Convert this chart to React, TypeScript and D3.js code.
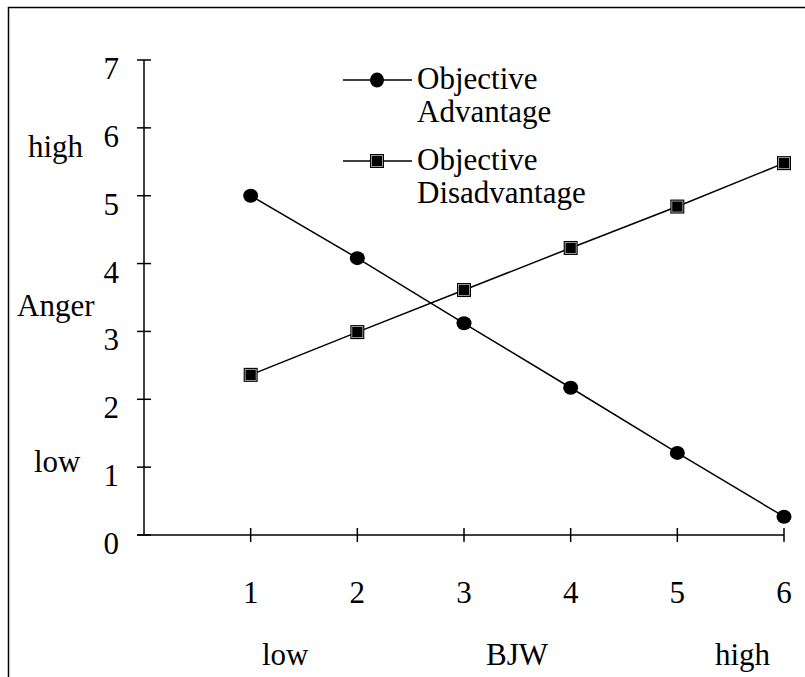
import React, { useEffect, useRef } from 'react';
import * as d3 from 'd3';

// BJW levels on the x axis
const bjwLevels = [1, 2, 3, 4, 5, 6];
const yTicks = [0, 1, 2, 3, 4, 5, 6, 7];

// Anger values
const advantage = [5.0, 4.08, 3.12, 2.17, 1.21, 0.27];
const disadvantage = [2.36, 2.99, 3.61, 4.23, 4.84, 5.48];

const advantageLabel = ['Objective', 'Advantage'];
const disadvantageLabel = ['Objective', 'Disadvantage'];

const FONT = '"Liberation Serif", "Times New Roman", serif';

const App: React.FC = () => {
    const svgRef = useRef<SVGSVGElement>(null);

    useEffect(() => {
        if (!svgRef.current) return;
        const svg = d3.select(svgRef.current);
        svg.selectAll('*').remove();

        const width = 805;
        const height = 677;

        const x = d3.scaleLinear().domain([0, 6]).range([144, 784]);
        const y = d3.scaleLinear().domain([0, 7]).range([535, 60]);

        // outer frame (runs off the right and bottom edges)
        svg.append('rect')
            .attr('x', 8.5)
            .attr('y', 7.5)
            .attr('width', width + 20)
            .attr('height', height + 20)
            .attr('fill', 'none')
            .attr('stroke', '#000')
            .attr('stroke-width', 1.5);

        const g = svg.append('g')
            .attr('font-family', FONT)
            .attr('font-size', 31)
            .attr('fill', '#000');

        // Y axis
        g.append('line')
            .attr('x1', x(0)).attr('x2', x(0))
            .attr('y1', y(7)).attr('y2', y(0))
            .attr('stroke', '#000').attr('stroke-width', 1.5);

        g.append('g')
            .selectAll('line')
            .data(yTicks)
            .join('line')
            .attr('x1', x(0) - 7).attr('x2', x(0) + 7)
            .attr('y1', d => y(d)).attr('y2', d => y(d))
            .attr('stroke', '#000').attr('stroke-width', 1.5);

        g.append('g')
            .selectAll('text')
            .data(yTicks)
            .join('text')
            .attr('x', 119)
            .attr('y', d => y(d) + 19)
            .attr('text-anchor', 'end')
            .text(d => d);

        // X axis
        g.append('line')
            .attr('x1', x(0) - 7).attr('x2', x(6))
            .attr('y1', y(0)).attr('y2', y(0))
            .attr('stroke', '#000').attr('stroke-width', 1.5);

        g.append('g')
            .selectAll('line')
            .data(bjwLevels)
            .join('line')
            .attr('x1', d => x(d)).attr('x2', d => x(d))
            .attr('y1', y(0) - 7).attr('y2', y(0) + 7)
            .attr('stroke', '#000').attr('stroke-width', 1.5);

        g.append('g')
            .selectAll('text')
            .data(bjwLevels)
            .join('text')
            .attr('x', d => x(d))
            .attr('y', 603)
            .attr('text-anchor', 'middle')
            .text(d => d);

        // axis annotations
        g.append('text').attr('x', 28).attr('y', 157).text('high');
        g.append('text').attr('x', 17).attr('y', 316).text('Anger');
        g.append('text').attr('x', 34).attr('y', 472).text('low');
        g.append('text').attr('x', 262).attr('y', 665).text('low');
        g.append('text').attr('x', 486).attr('y', 665).text('BJW');
        g.append('text').attr('x', 715).attr('y', 665).text('high');

        const line = d3.line<number>()
            .x((_, i) => x(bjwLevels[i]))
            .y(d => y(d));

        const drawSquare = (sel: d3.Selection<SVGGElement, unknown, null, undefined>, cx: number, cy: number) => {
            sel.append('rect')
                .attr('x', cx - 7).attr('y', cy - 7)
                .attr('width', 14).attr('height', 14)
                .attr('fill', '#000');
            sel.append('rect')
                .attr('x', cx - 5.5).attr('y', cy - 5.5)
                .attr('width', 11).attr('height', 11)
                .attr('fill', '#000')
                .attr('stroke', '#bbb')
                .attr('stroke-width', 0.8);
        };

        // Objective Disadvantage series
        g.append('path')
            .datum(disadvantage)
            .attr('d', line)
            .attr('fill', 'none')
            .attr('stroke', '#000')
            .attr('stroke-width', 1.5);

        const sq = g.append('g');
        disadvantage.forEach((v, i) => drawSquare(sq, x(bjwLevels[i]), y(v)));

        // Objective Advantage series
        g.append('path')
            .datum(advantage)
            .attr('d', line)
            .attr('fill', 'none')
            .attr('stroke', '#000')
            .attr('stroke-width', 1.5);

        g.append('g')
            .selectAll('ellipse')
            .data(advantage)
            .join('ellipse')
            .attr('cx', (_, i) => x(bjwLevels[i]))
            .attr('cy', d => y(d))
            .attr('rx', 7.5)
            .attr('ry', 7)
            .attr('fill', '#000');

        // Legend
        const legend = g.append('g');
        const legendItems = [
            { label: advantageLabel, y: 80, marker: 'circle' },
            { label: disadvantageLabel, y: 161, marker: 'square' },
        ];
        legendItems.forEach(item => {
            legend.append('line')
                .attr('x1', 343).attr('x2', 412)
                .attr('y1', item.y).attr('y2', item.y)
                .attr('stroke', '#000').attr('stroke-width', 1.5);
            if (item.marker === 'circle') {
                legend.append('ellipse')
                    .attr('cx', 377).attr('cy', item.y)
                    .attr('rx', 7).attr('ry', 7.5)
                    .attr('fill', '#000');
            } else {
                drawSquare(legend, 377, item.y);
            }
            const t = legend.append('text')
                .attr('x', 417)
                .attr('y', item.y + 9);
            item.label.forEach((s, i) => {
                t.append('tspan')
                    .attr('x', 417)
                    .attr('dy', i === 0 ? 0 : 33)
                    .text(s);
            });
        });
    }, []);

    return (
        <svg
            ref={svgRef}
            width={805}
            height={677}
            style={{ position: 'absolute', left: 0, top: 0, background: '#fff' }}
        />
    );
};

export default App;
